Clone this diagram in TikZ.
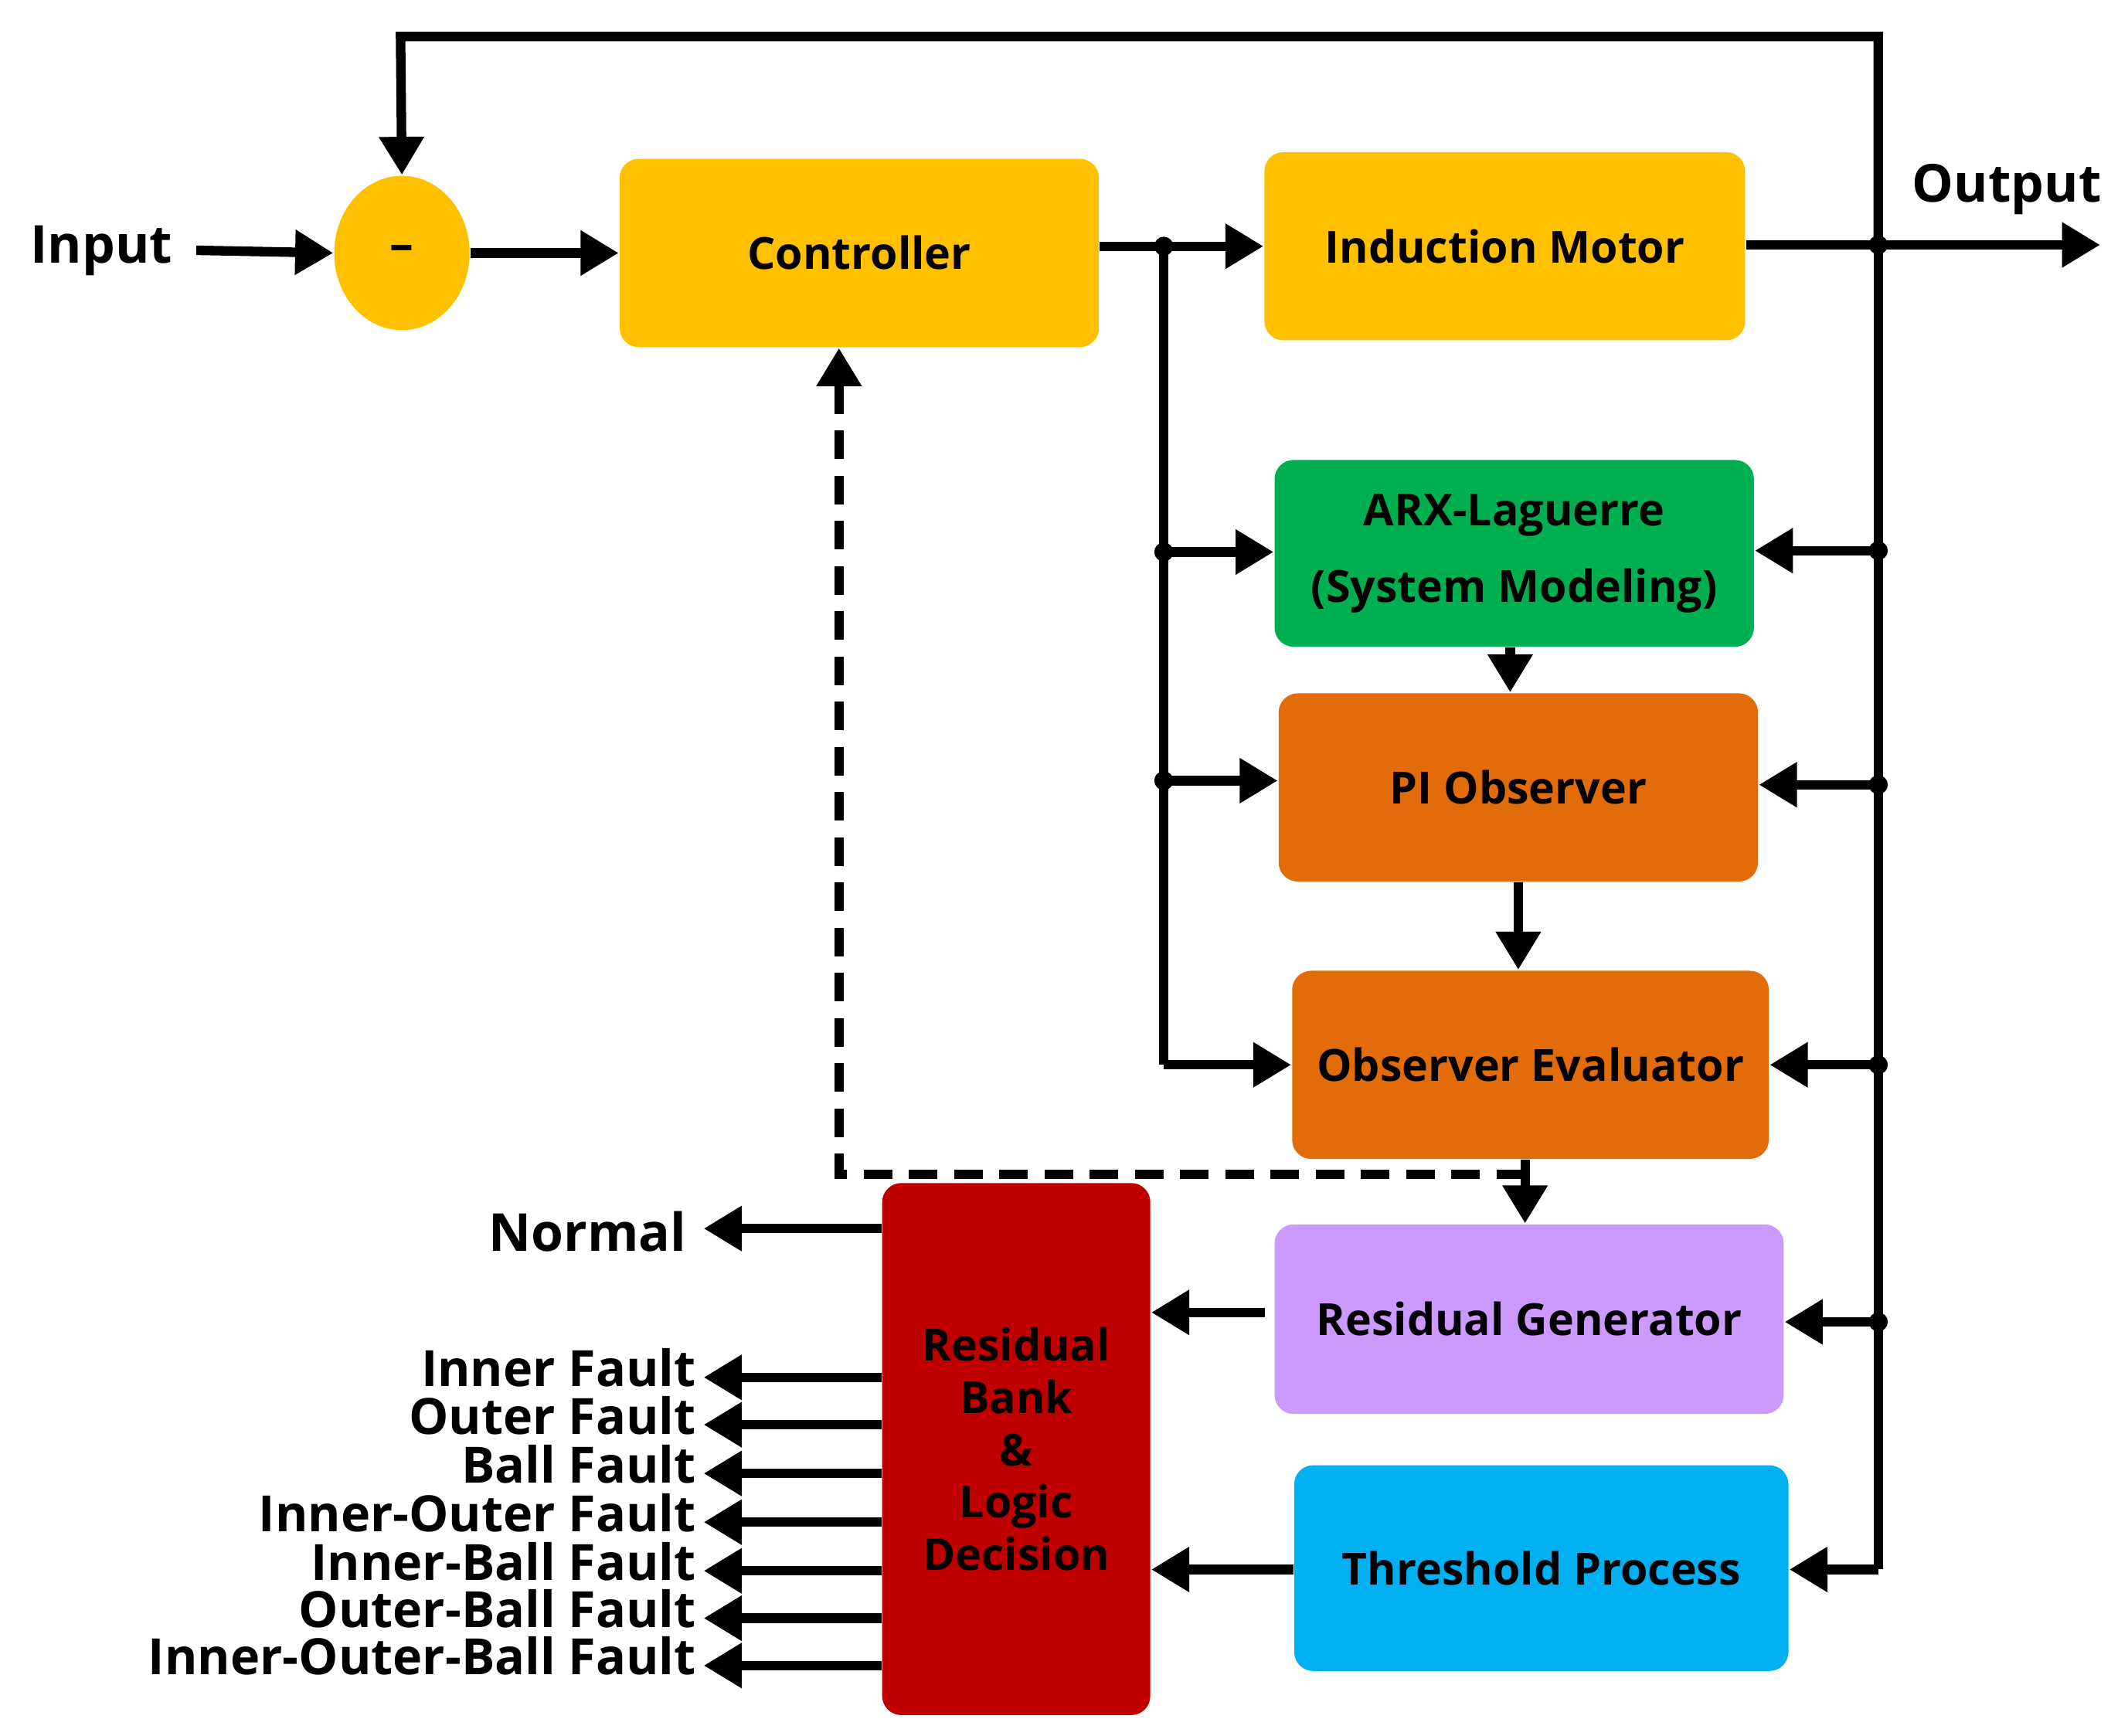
\documentclass[tikz,border=0pt]{standalone}
\usepackage{fontspec}
\setmainfont{Open Sans}
\usetikzlibrary{arrows.meta,shapes.geometric}
\definecolor{cy}{RGB}{255,192,0}
\definecolor{cg}{RGB}{0,176,80}
\definecolor{co}{RGB}{226,108,10}
\definecolor{cp}{RGB}{204,153,255}
\definecolor{cb}{RGB}{0,176,240}
\definecolor{cr}{RGB}{192,0,0}
\begin{document}
\begin{tikzpicture}[x=0.01cm,y=-0.01cm,
 box/.style={rectangle,rounded corners=4pt,draw=none,font=\bfseries\fontsize{9.3}{11}\selectfont,align=center,inner sep=0pt},
 ln/.style={line width=2pt},
 ar/.style={line width=2pt,-{Triangle[length=8pt,width=9pt]}},
 lab/.style={font=\bfseries\fontsize{11}{12}\selectfont,inner sep=0pt},
 flab/.style={font=\bfseries\fontsize{10.5}{11}\selectfont,inner sep=0pt},
 dot/.style={circle,fill=black,inner sep=0pt,minimum size=4pt}]
\useasboundingbox (0,0) rectangle (1560,1283);
\node[lab] (in) at (75,185) {Input};
\node[ellipse,fill=cy,minimum width=1cm,minimum height=1.14cm,inner sep=0pt,font=\bfseries] (sum) at (297,187) {–};
\node[box,fill=cy,minimum width=3.54cm,minimum height=1.39cm] (ctrl) at (635,187) {Controller};
\node[box,fill=cy,minimum width=3.55cm,minimum height=1.39cm] (im) at (1112,182) {Induction Motor};
\node[box,fill=cg,minimum width=3.54cm,minimum height=1.38cm] (arx) at (1119,409) {ARX-Laguerre\\[5pt](System Modeling)};
\node[box,fill=co,minimum width=3.54cm,minimum height=1.39cm] (pi) at (1122,582) {PI Observer};
\node[box,fill=co,minimum width=3.52cm,minimum height=1.39cm] (ev) at (1131,787) {Observer Evaluator};
\node[box,fill=cp,minimum width=3.76cm,minimum height=1.40cm] (rg) at (1130,975) {Residual Generator};
\node[box,fill=cb,minimum width=3.65cm,minimum height=1.52cm] (th) at (1139,1159) {Threshold Process};
\node[box,fill=cr,minimum width=1.98cm,minimum height=3.93cm] (rb) at (751,1071) {Residual\\Bank\\\&\\Logic\\Decision};
\node[lab] (outl) at (1483,140) {Output};
\coordinate (oe) at (1552,181);
\coordinate (jr) at (1388,181);
\coordinate (tr) at (1388,27);
\coordinate (tl) at (296,27);
\coordinate (jl) at (860,182);
\draw[ar] (145,185) -- (sum.west);
\draw[ar] (sum.east) -- (ctrl.west);
\draw[ar] (ctrl.east|-jl) -- (im.west|-jl);
\draw[ar] (im.east|-jr) -- (oe);
\draw[ar] (jr) -- (tr) -- (tl) -- (sum.north);
\draw[ln] (jr) -- (1388,1160);
\draw[ar] (1388,1160) -- (th.east|-0,1160);
\draw[ln] (jl) -- (860,787);
\draw[ar] (860,787) -- (ev.west|-0,787);
\draw[ar] (860,408) -- (arx.west|-0,408);
\draw[ar] (860,577) -- (pi.west|-0,577);
\foreach \y/\n in {407/arx,580/pi,787/ev,977/rg}{
 \draw[ar] (1388,\y) -- (\n.east|-0,\y);
 \node[dot] at (1388,\y) {};}
\foreach \y in {182,408,577}{\node[dot] at (860,\y) {};}
\node[dot] at (jr) {};
\draw[ar] (arx.south-|1116,0) -- (pi.north-|1116,0);
\draw[ar] (pi.south-|1122,0) -- (ev.north-|1122,0);
\draw[ar] (ev.south-|1127,0) -- (rg.north-|1127,0);
\draw[line width=2pt,dash pattern=on 6pt off 3.5pt,-{Triangle[length=8pt,width=9pt]}] (1127,868) -- (620,868) -- (ctrl.south-|620,0);
\draw[ar] (935,970) -- (rb.east|-0,970);
\draw[ar] (th.west|-0,1160) -- (rb.east|-0,1160);
\draw[ar] (rb.west|-0,908) -- (520,908);
\node[lab,anchor=east] (nm) at (508,910) {Normal};
\foreach \y/\t [count=\i] in {1018/Inner Fault,1053/Outer Fault,1089/Ball Fault,1125/Inner-Outer Fault,1161/Inner-Ball Fault,1196/Outer-Ball Fault,1231/Inner-Outer-Ball Fault}{
 \draw[ar] (rb.west|-0,\y) -- (520,\y);
 \node[flab,anchor=east] (f\i) at (515,\y-7) {\t};}
\end{tikzpicture}
\end{document}
